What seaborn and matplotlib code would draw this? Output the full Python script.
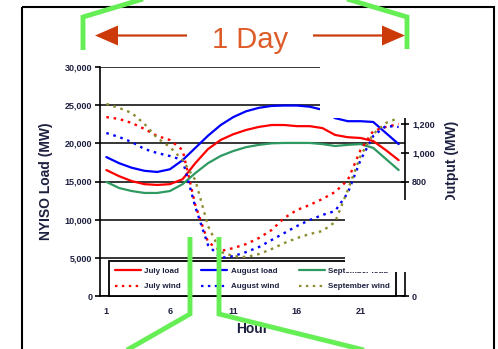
import matplotlib
matplotlib.use("Agg")
import matplotlib.pyplot as plt
from matplotlib.lines import Line2D
from matplotlib.patches import Rectangle, FancyArrow
import seaborn as sns

# Hourly NYISO load (MW) and wind output (MW) for three summer months
hours = list(range(1, 25))
july_load = [16500, 15700, 15050, 14650, 14550, 14650, 15300, 17400, 19250, 20450, 21200, 21750,
             22150, 22400, 22400, 22250, 22250, 22000, 21100, 20800, 20700, 20300, 19100, 17800]
august_load = [18200, 17400, 16800, 16400, 16250, 16600, 17800, 19400, 21000, 22400, 23450, 24200,
               24650, 24900, 24950, 24950, 24800, 24400, 23300, 22900, 22900, 22800, 21350, 19900]
september_load = [14950, 14150, 13750, 13500, 13500, 13750, 14650, 16100, 17400, 18350, 19000, 19500,
                  19800, 20000, 20050, 20050, 20050, 19900, 19650, 19800, 19900, 19400, 17950, 16500]
july_wind = [1250, 1237, 1209, 1167, 1118, 1090, 1020, 636, 377, 314, 335, 363,
             405, 461, 545, 601, 636, 678, 727, 810, 1020, 1153, 1181, 1202]
august_wind = [1139, 1111, 1076, 1027, 999, 978, 950, 622, 356, 266, 279, 307,
               342, 391, 440, 489, 531, 566, 594, 720, 950, 1118, 1188, 1181]
september_wind = [1342, 1314, 1279, 1202, 1104, 1041, 950, 810, 489, 307, 279, 272,
                  293, 328, 370, 405, 433, 454, 517, 741, 978, 1132, 1209, 1244]

load_ticks = list(range(0, 30001, 5000))
wind_ticks = list(range(0, 1601, 200))
hour_ticks = [1, 6, 11, 16, 21]

RED, BLUE, GREEN, OLIVE = "#FF0000", "#0000FF", "#2E9960", "#8C8C30"
TXT = "#1E2040"
BRACKET = "#66EE55"

W, H = 498, 349
sns.set_theme(style="white")
plt.rcParams["font.family"] = ["Liberation Sans", "DejaVu Sans"]

fig = plt.figure(figsize=(W / 100, H / 100), dpi=100)
fig.patch.set_facecolor("white")


def box(x0, y0, x1, y1):
    return [x0 / W, 1 - y1 / H, (x1 - x0) / W, (y1 - y0) / H]


ax = fig.add_axes(box(100, 67, 405, 296))
ax2 = ax.twinx()

# Load curves (left axis)
for vals, col in [(july_load, RED), (august_load, BLUE), (september_load, GREEN)]:
    sns.lineplot(x=hours, y=vals, color=col, lw=1.6, ax=ax)

# Wind output curves (right axis)
dot = (0, (1.1, 2.0))
for vals, col in [(july_wind, RED), (august_wind, BLUE), (september_wind, OLIVE)]:
    sns.lineplot(x=hours, y=vals, color=col, lw=1.7, ls=dot, ax=ax2)

ax.set_xlim(0.5, 24.5)
ax.set_ylim(0, 30000)
ax2.set_ylim(0, 1600)

ax.set_yticks(load_ticks, labels=[f"{v:,}" for v in load_ticks],
              fontsize=6.5, fontweight="bold", color=TXT)
ax2.set_yticks(wind_ticks, labels=[f"{v:,}" for v in wind_ticks],
               fontsize=6.5, fontweight="bold", color=TXT)
ax.set_xticks(hour_ticks, labels=[str(h) for h in hour_ticks],
              fontsize=6.5, fontweight="bold", color=TXT)
ax.set_xticks([h + 0.5 for h in range(0, 25)], minor=True)

ax.tick_params(axis="x", which="major", length=0, pad=8)
ax.tick_params(axis="x", which="minor", length=3, width=1.2, direction="out", color="black")
ax.tick_params(axis="y", length=3.5, width=1.2, direction="out", pad=2, color="black")
ax2.tick_params(axis="y", length=6, width=1.2, direction="inout", pad=2, color="black")

ax.set_axisbelow(True)
ax.yaxis.grid(True, color="black", lw=1.1)
ax.xaxis.grid(False)

for name, sp in ax.spines.items():
    sp.set_visible(name in ("left", "bottom"))
    sp.set_color("black")
    sp.set_linewidth(1.2)
for name, sp in ax2.spines.items():
    sp.set_visible(name == "right")
    sp.set_color("black")
    sp.set_linewidth(1.2)

ax.set_ylabel("NYISO Load (MW)", fontsize=10, fontweight="bold", color=TXT)
ax.yaxis.set_label_coords(-0.154, 0.5)
ax2.set_ylabel("Wind Output (MW)", fontsize=10, fontweight="bold", color=TXT)
ax2.yaxis.set_label_coords(1.131, 0.5)
ax.set_xlabel("Hour", fontsize=10, fontweight="bold", color=TXT)
ax.xaxis.set_label_coords(0.498, -0.112)

# Legend: loads on the first row, wind on the second
entries = [("July load", RED, "-"), ("July wind", RED, dot),
           ("August load", BLUE, "-"), ("August wind", BLUE, dot),
           ("September load", GREEN, "-"), ("September wind", OLIVE, dot)]
handles = [Line2D([], [], color=c, lw=1.6, ls=ls) for _, c, ls in entries]
leg = ax2.legend(handles, [e[0] for e in entries], ncol=3, mode="expand",
                 loc="lower left", bbox_to_anchor=(0.0295, 0.0, 0.941, 0.153),
                 prop=dict(size=5.8, weight="bold"), frameon=True, fancybox=False,
                 edgecolor="black", facecolor="white", framealpha=1,
                 borderpad=0.7, handlelength=3.3, handletextpad=0.4,
                 labelspacing=1.0, borderaxespad=0)
leg.get_frame().set_linewidth(1.3)
for t in leg.get_texts():
    t.set_color(TXT)

# Slide overlay: frame, masks, "1 Day" span and zoom brackets
ov = fig.add_axes([0, 0, 1, 1], zorder=10)
ov.set_xlim(0, W)
ov.set_ylim(H, 0)
ov.axis("off")
ov.patch.set_alpha(0)

ov.add_patch(Rectangle((320, 55), 170, 63, fc="white", ec="none"))
ov.add_patch(Rectangle((345, 200), 145, 72, fc="white", ec="none"))
ov.add_patch(Rectangle((22, 7), 472, 380, fill=False, ec="black", lw=1.5))

arrow_col = "#CC3A0A"
ov.add_patch(FancyArrow(187, 35.5, -92, 0, width=2.2, head_width=20, head_length=23,
                        length_includes_head=True, color=arrow_col, lw=0))
ov.add_patch(FancyArrow(313, 35.5, 92, 0, width=2.2, head_width=20, head_length=23,
                        length_includes_head=True, color=arrow_col, lw=0))
ov.text(250.5, 48, "1 Day", ha="center", va="baseline", fontsize=21, color="#DD5C2A")

for xs, ys in [([83, 83, 143], [50, 17, -1]),
               ([407, 407, 347], [49, 17, -1]),
               ([190, 190, 127], [237, 314, 350]),
               ([219, 219, 364], [237, 314, 350])]:
    ov.plot(xs, ys, color=BRACKET, lw=3.5, solid_joinstyle="miter", solid_capstyle="butt")

fig.savefig("out.png", dpi=100)
